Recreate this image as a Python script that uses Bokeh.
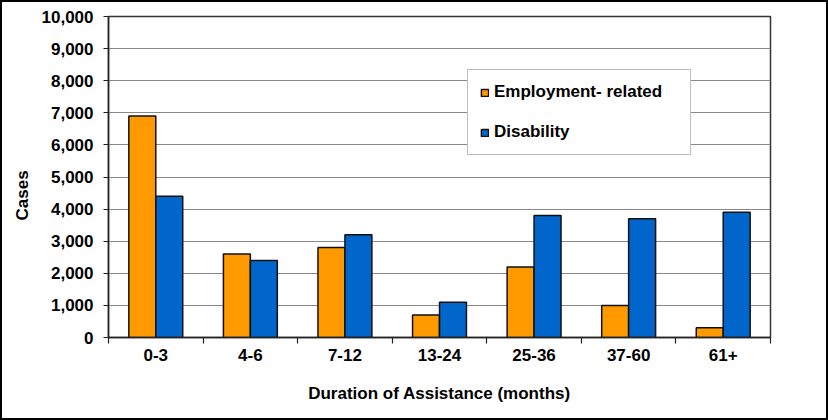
import numpy as np
from bokeh.plotting import figure
from bokeh.models import (ColumnDataSource, FixedTicker, Legend, LegendItem,
                          Title, NumeralTickFormatter, Range1d)
from bokeh.embed import file_html
from bokeh.resources import INLINE

categories = ["0-3", "4-6", "7-12", "13-24", "25-36", "37-60", "61+"]
employment = [6900, 2600, 2800, 700, 2200, 1000, 300]
disability = [4400, 2400, 3200, 1100, 3800, 3700, 3900]
series_names = ["Employment- related", "Disability"]
y_ticks = [0, 1000, 2000, 3000, 4000, 5000, 6000, 7000, 8000, 9000, 10000]

FONT = "Liberation Sans"
FS = "17px"
ORANGE = "#FF9900"
BLUE = "#0066CC"

n = len(categories)
centers = np.arange(n) + 0.5
bw = 0.285

src = ColumnDataSource(dict(
    x1=centers - bw / 2, x2=centers + bw / 2,
    emp=employment, dis=disability,
))

p = figure(width=828, height=420, output_backend="svg", toolbar_location=None,
           x_range=Range1d(0, n), y_range=Range1d(0, 10000),
           min_border_left=106, min_border_right=60,
           min_border_top=14, min_border_bottom=85)
p.styles = {"border": "2px solid black", "box-sizing": "border-box"}

r1 = p.vbar(x="x1", top="emp", width=bw, source=src, fill_color=ORANGE,
            line_color="#111111", line_width=1.5)
r2 = p.vbar(x="x2", top="dis", width=bw, source=src, fill_color=BLUE,
            line_color="#111111", line_width=1.5)

# frame
p.outline_line_color = "#333333"
p.outline_line_width = 1.5
p.background_fill_color = "white"
p.border_fill_color = "white"

# grid
p.xgrid.visible = False
p.ygrid.ticker = FixedTicker(ticks=y_ticks)
p.ygrid.grid_line_color = "#888888"
p.ygrid.grid_line_width = 1.2

# y axis
p.yaxis.ticker = FixedTicker(ticks=y_ticks)
p.yaxis.formatter = NumeralTickFormatter(format="0,0")
p.yaxis.major_label_text_font = FONT
p.yaxis.major_label_text_font_style = "bold"
p.yaxis.major_label_text_font_size = FS
p.yaxis.major_label_text_color = "black"
p.yaxis.major_tick_out = 5
p.yaxis.major_tick_in = 0
p.yaxis.minor_tick_line_color = None
p.yaxis.major_label_standoff = 10
p.yaxis.axis_line_color = "#222222"
p.yaxis.axis_line_width = 1.5
p.yaxis.major_tick_line_color = "#222222"

# x axis
p.xaxis.ticker = FixedTicker(ticks=list(centers), minor_ticks=list(range(n + 1)))
p.xaxis.major_label_overrides = {float(c): lab for c, lab in zip(centers, categories)}
p.xaxis.major_tick_line_color = None
p.xaxis.minor_tick_out = 6
p.xaxis.minor_tick_in = 0
p.xaxis.minor_tick_line_color = "#222222"
p.xaxis.minor_tick_line_width = 1.2
p.xaxis.major_label_text_font = FONT
p.xaxis.major_label_text_font_style = "bold"
p.xaxis.major_label_text_font_size = FS
p.xaxis.major_label_text_color = "black"
p.xaxis.major_label_standoff = 5
p.xaxis.axis_line_color = "#222222"
p.xaxis.axis_line_width = 1.5
p.xaxis.axis_label = "Duration of Assistance (months)"
p.xaxis.axis_label_text_font = FONT
p.xaxis.axis_label_text_font_style = "bold"
p.xaxis.axis_label_text_font_size = FS
p.xaxis.axis_label_text_color = "black"
p.xaxis.axis_label_standoff = 20

# y axis title
p.add_layout(Title(text="Cases", align="left", offset=117, standoff=14,
                   text_font=FONT, text_font_style="bold",
                   text_font_size=FS, text_color="black"), "left")

# legend
legend = Legend(items=[LegendItem(label=series_names[0], renderers=[r1]),
                       LegendItem(label=series_names[1], renderers=[r2])],
                location=(359, 182), orientation="vertical")
legend.padding = 12
legend.spacing = 20
legend.glyph_width = 9
legend.glyph_height = 9
legend.label_standoff = 5
legend.label_width = 184
legend.label_height = 19
legend.label_text_font = FONT
legend.label_text_font_style = "bold"
legend.label_text_font_size = FS
legend.label_text_color = "black"
legend.label_text_baseline = "middle"
legend.border_line_color = "#808080"
legend.border_line_width = 1
legend.background_fill_color = "white"
legend.background_fill_alpha = 1
legend.margin = 0
p.add_layout(legend, "center")

open("out.html", "w").write(file_html(p, INLINE))
